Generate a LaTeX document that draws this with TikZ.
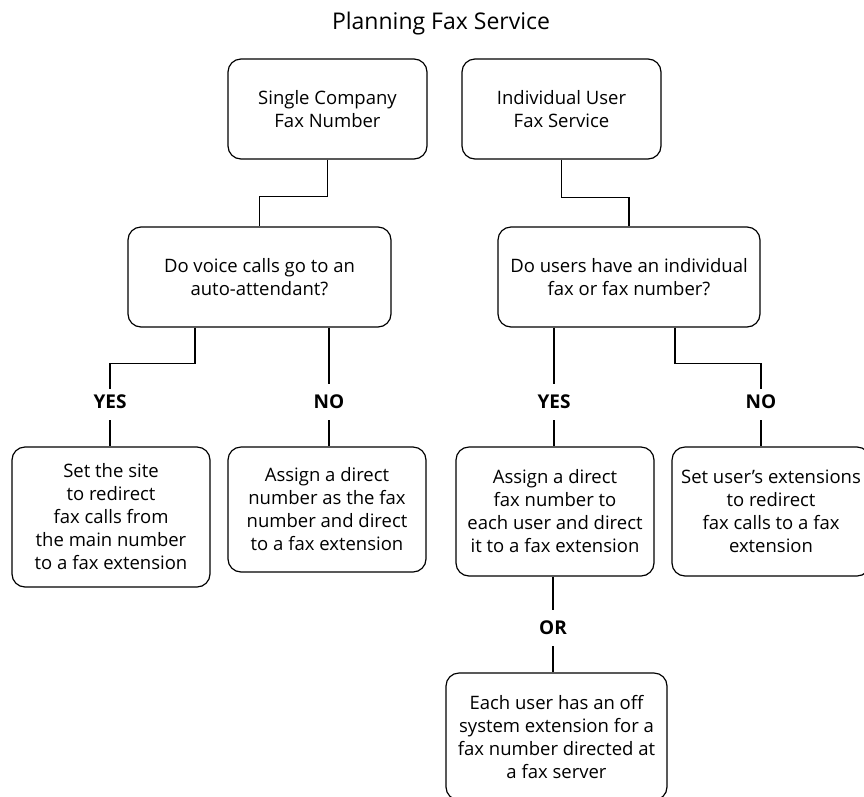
\documentclass[tikz,border=0pt]{standalone}
\usepackage{fontspec}
\setmainfont{Open Sans}
\begin{document}
\begin{tikzpicture}[x=1pt,y=-1pt,
  every node/.style={font=\fontsize{18.5}{23}\selectfont},
  box/.style={draw, line width=1.2pt, rounded corners=13pt, align=center,
    inner sep=0pt, minimum width=198pt},
  answer/.style={font=\fontsize{19}{23}\selectfont\bfseries, inner sep=0pt,
    minimum height=36pt},
  link/.style={line width=1.2pt}]
  \fill[white] (0,0) rectangle (864,796);
  \useasboundingbox (0,0) rectangle (864,796);
  \clip (0,0) rectangle (864,796);

  % title
  \node[font=\fontsize{23}{28}\selectfont] (title) at (441,24) {Planning Fax Service};

  % top level choices
  \node[box, minimum width=199pt, minimum height=100pt] (A) at (327.5,109)
    {Single Company\\Fax Number};
  \node[box, minimum width=199pt, minimum height=100pt] (B) at (561.5,109)
    {Individual User\\Fax Service};

  % questions
  \node[box, minimum width=263pt, minimum height=100pt] (C) at (259.5,277)
    {Do voice calls go to an\\auto-attendant?};
  \node[box, minimum width=262pt, minimum height=100pt] (D) at (629,277)
    {Do users have an individual\\fax or fax number?};

  % answers
  \node[answer] (yes1) at (110,402) {YES};
  \node[answer] (no1) at (329,402) {NO};
  \node[answer] (yes2) at (554,402) {YES};
  \node[answer] (no2) at (761,402) {NO};

  % outcomes
  \node[box, minimum height=140pt] (E) at (111,517)
    {Set the site\\to redirect\\fax calls from\\the main number\\to a fax extension};
  \node[box, minimum height=125pt] (F) at (327,509.5)
    {Assign a direct\\number as the fax\\number and direct\\to a fax extension};
  \node[box, minimum height=129pt] (G) at (555,511.5)
    {Assign a direct\\fax number to\\each user and direct\\it to a fax extension};
  \node[box, minimum height=129pt] (H) at (771,511.5)
    {Set user's extensions\\to redirect\\fax calls to a fax\\extension};

  \node[answer] (or) at (553,628) {OR};
  \node[box, minimum width=221pt, minimum height=127pt] (I) at (556.5,736.5)
    {Each user has an off\\system extension for a\\fax number directed at\\a fax server};

  % connectors
  \draw[link] (A.south) -- ++(0,37) -| (C.north);
  \draw[link] (B.south) -- ++(0,38) -| (D.north);

  \draw[link] ([xshift=-64.5pt]C.south) -- ++(0,36) -| ([yshift=-5pt]yes1.north);
  \draw[link] (yes1.south) -- (yes1.south |- E.north);
  \draw[link] (no1.north |- C.south) -- (no1.north);
  \draw[link] (no1.south) -- (no1.south |- F.north);

  \draw[link] (yes2.north |- D.south) -- (yes2.north);
  \draw[link] (yes2.south) -- (yes2.south |- G.north);
  \draw[link] ([xshift=46pt]D.south) -- ++(0,36) -| ([yshift=-5pt]no2.north);
  \draw[link] (no2.south) -- (no2.south |- H.north);

  \draw[link] (or.north |- G.south) -- (or.north);
  \draw[link] (or.south) -- (or.south |- I.north);
\end{tikzpicture}
\end{document}
